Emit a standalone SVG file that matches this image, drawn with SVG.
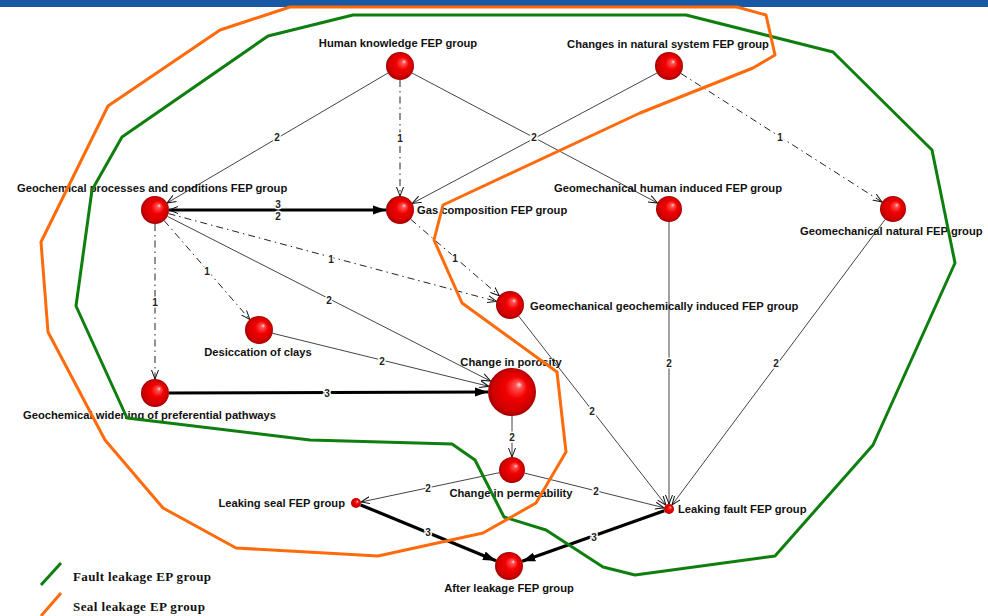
<svg xmlns="http://www.w3.org/2000/svg" width="988" height="616" viewBox="0 0 988 616">
<defs>
<radialGradient id="ball" cx="50%" cy="50%" r="50%" fx="66%" fy="34%">
<stop offset="0%" stop-color="#FFE0E0"/>
<stop offset="14%" stop-color="#FF5050"/>
<stop offset="45%" stop-color="#F20000"/>
<stop offset="85%" stop-color="#D00000"/>
<stop offset="100%" stop-color="#A00000"/>
</radialGradient>
<marker id="open" markerUnits="userSpaceOnUse" markerWidth="10" markerHeight="8" refX="9" refY="4" orient="auto-start-reverse" viewBox="0 0 10 8">
<path d="M0,0.5 L9,4 L0,7.5" fill="none" stroke="#111" stroke-width="1"/>
</marker>
<marker id="filled" markerUnits="userSpaceOnUse" markerWidth="14" markerHeight="10" refX="13" refY="5" orient="auto" viewBox="0 0 14 10">
<path d="M0,0.5 L13,5 L0,9.5 Z" fill="#000"/>
</marker>
<style>
.lbl{font-family:"Liberation Sans",Arial,sans-serif;font-size:11.2px;font-weight:bold;fill:#111}
.el{font-family:"Liberation Sans",Arial,sans-serif;font-size:10px;font-weight:bold;fill:#222;stroke:#fff;stroke-width:3px;paint-order:stroke;text-anchor:middle;dominant-baseline:central}
.thin{fill:none;stroke:#444;stroke-width:1;marker-end:url(#open)}
.dd{fill:none;stroke:#222;stroke-width:1;stroke-dasharray:7 4 1.5 4;marker-end:url(#open)}
.thick{fill:none;stroke:#000;stroke-width:3.2;marker-end:url(#filled)}
.ball{fill:url(#ball)}
.reg{fill:none;stroke-width:3;stroke-linejoin:round}
.leg{font-family:"Liberation Serif","Times New Roman",serif;font-size:13px;font-weight:bold;fill:#111}
</style>
</defs>
<rect width="988" height="616" fill="#fff"/>
<rect width="988" height="7" fill="#1759A5"/>

<g id="connectors">
<line class="thin" x1="388" y1="73" x2="167" y2="203"/>
<line class="dd" x1="400" y1="80" x2="400" y2="196"/>
<line class="thin" x1="412" y1="73" x2="657.5" y2="203"/>
<line class="thin" x1="657" y1="73" x2="412.3" y2="203.4"/>
<line class="dd" x1="681" y1="73.5" x2="882" y2="202"/>
<line class="thick" x1="169" y1="210" x2="386" y2="210" marker-start="url(#open)"/>
<line class="dd" x1="410.6" y1="219.2" x2="499.4" y2="295.8"/>
<line class="dd" x1="168.5" y1="213.6" x2="496.5" y2="301.4"/>
<line class="dd" x1="164.2" y1="220.6" x2="249.8" y2="319.4"/>
<line class="thin" x1="167.5" y1="216.4" x2="490.6" y2="381.1"/>
<line class="dd" x1="155" y1="224" x2="155" y2="379"/>
<line class="thin" x1="272.6" y1="333.3" x2="488.7" y2="386.3"/>
<line class="thick" x1="169" y1="393" x2="488" y2="392"/>
<line class="thin" x1="512" y1="416" x2="512" y2="457"/>
<line class="thin" x1="518.6" y1="316" x2="665.9" y2="505.1"/>
<line class="thin" x1="669" y1="222" x2="669" y2="504"/>
<line class="thin" x1="885.2" y1="219.4" x2="672" y2="505"/>
<line class="thin" x1="499.3" y1="472.7" x2="361" y2="502"/>
<line class="thin" x1="524.6" y1="473.1" x2="664.1" y2="507.8"/>
<line class="thick" x1="360.6" y1="504.9" x2="496" y2="560.7"/>
<line class="thick" x1="664.3" y1="510.7" x2="522.2" y2="561.3"/>
<text class="el" x="277" y="137">2</text>
<text class="el" x="400" y="138">1</text>
<text class="el" x="534" y="137">2</text>
<text class="el" x="780" y="137">1</text>
<text class="el" x="278" y="204">3</text>
<text class="el" x="278" y="216">2</text>
<text class="el" x="455" y="258">1</text>
<text class="el" x="331" y="259">1</text>
<text class="el" x="207" y="271">1</text>
<text class="el" x="329" y="300">2</text>
<text class="el" x="155" y="302">1</text>
<text class="el" x="382" y="361">2</text>
<text class="el" x="327" y="393">3</text>
<text class="el" x="512" y="437">2</text>
<text class="el" x="592" y="411">2</text>
<text class="el" x="669" y="363">2</text>
<text class="el" x="776" y="363">2</text>
<text class="el" x="428" y="488">2</text>
<text class="el" x="596" y="491">2</text>
<text class="el" x="428" y="532">3</text>
<text class="el" x="594" y="537">3</text>
</g>

<g id="n-human-knowledge"><circle class="ball" cx="400" cy="66" r="14"/><text class="lbl" x="398" y="47" text-anchor="middle">Human knowledge FEP group</text></g>
<g id="n-changes-natural"><circle class="ball" cx="669" cy="66" r="14"/><text class="lbl" x="668" y="48" text-anchor="middle">Changes in natural system FEP group</text></g>
<g id="n-geochemical-processes"><circle class="ball" cx="155" cy="210" r="14"/><text class="lbl" x="17" y="192">Geochemical processes and conditions FEP group</text></g>
<g id="n-gas-composition"><circle class="ball" cx="400" cy="210" r="14"/><text class="lbl" x="417" y="214">Gas composition FEP group</text></g>
<g id="n-geomech-human"><circle class="ball" cx="669" cy="209" r="13"/><text class="lbl" x="668" y="192" text-anchor="middle">Geomechanical human induced FEP group</text></g>
<g id="n-geomech-natural"><circle class="ball" cx="893" cy="209" r="13"/><text class="lbl" x="800" y="235">Geomechanical natural FEP group</text></g>
<g id="n-geomech-geochem"><circle class="ball" cx="510" cy="305" r="14"/><text class="lbl" x="530" y="310">Geomechanical geochemically induced FEP group</text></g>
<g id="n-desiccation"><circle class="ball" cx="259" cy="330" r="14"/><text class="lbl" x="258" y="356" text-anchor="middle">Desiccation of clays</text></g>
<g id="n-change-porosity"><circle class="ball" cx="512" cy="392" r="24"/><text class="lbl" x="511" y="366" text-anchor="middle">Change in porosity</text></g>
<g id="n-geochem-widening"><circle class="ball" cx="155" cy="393" r="14"/><text class="lbl" x="23" y="419">Geochemical widening of preferential pathways</text></g>
<g id="n-change-permeability"><circle class="ball" cx="512" cy="470" r="13"/><text class="lbl" x="511" y="497" text-anchor="middle">Change in permeability</text></g>
<g id="n-leaking-seal"><circle class="ball" cx="356" cy="503" r="5"/><text class="lbl" x="345" y="507" text-anchor="end">Leaking seal FEP group</text></g>
<g id="n-leaking-fault"><circle class="ball" cx="669" cy="509" r="5"/><text class="lbl" x="678" y="513">Leaking fault FEP group</text></g>
<g id="n-after-leakage"><circle class="ball" cx="509" cy="566" r="14"/><text class="lbl" x="509" y="592" text-anchor="middle">After leakage FEP group</text></g>

<g id="regions">
<polygon class="reg" stroke="#0E7F0E" points="268,36 353,15 686,15 833,52 932,150 955,263 873,445 775,556 635,575 603,567 546,530 504,517 475,460 452,444 310,440 127,418 76,306 92,190 122,137"/>
<polygon class="reg" stroke="#FF6A0A" points="290,7 737,7 766,15 775,55 753,68 640,113 443,205 434,240 462,303 557,372 566,452 536,503 483,533 378,556 236,548 163,508 105,440 48,332 41,242 108,106 220,30"/>
</g>

<g id="legend">
<line x1="41" y1="585" x2="61" y2="563" stroke="#0E7F0E" stroke-width="3"/>
<text class="leg" x="73" y="581" textLength="138" lengthAdjust="spacing">Fault leakage EP group</text>
<line x1="41" y1="616" x2="61" y2="593" stroke="#FF6A0A" stroke-width="3"/>
<text class="leg" x="73" y="611" textLength="132" lengthAdjust="spacing">Seal leakage EP group</text>
</g>
</svg>
